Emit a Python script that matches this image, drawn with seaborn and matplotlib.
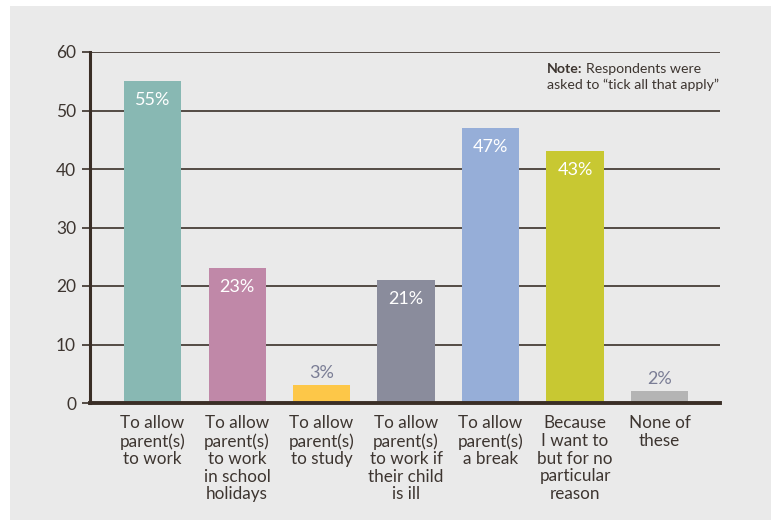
import matplotlib
matplotlib.use("Agg")
import matplotlib.pyplot as plt
import seaborn as sns
from matplotlib.patches import Rectangle

categories = [
    "To allow\nparent(s)\nto work",
    "To allow\nparent(s)\nto work\nin school\nholidays",
    "To allow\nparent(s)\nto study",
    "To allow\nparent(s)\nto work if\ntheir child\nis ill",
    "To allow\nparent(s)\na break",
    "Because\nI want to\nbut for no\nparticular\nreason",
    "None of\nthese",
]
values = [55, 23, 3, 21, 47, 43, 2]
bar_colors = ["#88b8b3", "#c088a8", "#fdc748", "#8a8c9c", "#96aed8", "#c8c832", "#b4b4b4"]
y_ticks = [0, 10, 20, 30, 40, 50, 60]

sns.set_theme(style="white")
plt.rcParams["font.family"] = ["Lato", "DejaVu Sans"]

text_dark = "#3d3530"
line_dark = "#2b2018"
panel = "#eaeaea"

fig = plt.figure(figsize=(7.71, 5.2), dpi=100)
fig.patch.set_facecolor("white")
fig.add_artist(Rectangle((10 / 771, 0), 1, 514 / 520, transform=fig.transFigure,
                         facecolor=panel, edgecolor="none", zorder=0))

ax = fig.add_axes([90 / 771, 117 / 520, 630 / 771, 351 / 520])
ax.set_facecolor(panel)
ax.patch.set_alpha(0)

sns.barplot(x=categories, y=values, hue=categories, palette=bar_colors,
            width=0.675, saturation=1, legend=False, ax=ax, zorder=3,
            edgecolor="none", linewidth=0)

ax.set_ylim(0, 60)
ax.set_xlim(-0.74, 6.716)
ax.set_yticks(y_ticks)
ax.set_yticklabels([str(t) for t in y_ticks], fontsize=12.5, color=text_dark)
for t in y_ticks[1:]:
    ax.axhline(t, color=line_dark, lw=1.1, zorder=1)

for side in ["top", "right"]:
    ax.spines[side].set_visible(False)
ax.spines["left"].set_color("#3a2e26")
ax.spines["left"].set_linewidth(2.2)
ax.spines["bottom"].set_color("#3a2e26")
ax.spines["bottom"].set_linewidth(2.8)
ax.spines["left"].set_zorder(4)
ax.spines["bottom"].set_zorder(4)

ax.tick_params(axis="y", which="both", left=True, length=6, width=1.1,
               color=line_dark, pad=4)
ax.tick_params(axis="x", which="both", bottom=False, pad=3)
ax.set_xticks(range(len(categories)))
ax.set_xticklabels(categories, fontsize=12.3, color=text_dark,
                   linespacing=1.12, va="top", ha="center")
ax.set_xlabel("")
ax.set_ylabel("")

for i, v in enumerate(values):
    label = f"{v}%"
    if v >= 10:
        ax.annotate(label, (i, v), xytext=(0, -19), textcoords="offset pixels",
                    ha="center", va="center", color="white", fontsize=13, zorder=5)
    else:
        ax.annotate(label, (i, v), xytext=(0, 12), textcoords="offset pixels",
                    ha="center", va="center", color="#7a7d95", fontsize=13, zorder=5)

# Note box in the upper right, bold lead word followed by regular text
note_x = 547 / 771
lead = fig.text(note_x, 1 - 69 / 520, "Note:", fontsize=10.2, fontweight="bold",
                color=text_dark, ha="left", va="center")
fig.canvas.draw()
bb = lead.get_window_extent(renderer=fig.canvas.get_renderer())
fig.text((bb.x1 + 3) / 771, 1 - 69 / 520, "Respondents were", fontsize=10.2,
         color=text_dark, ha="left", va="center")
fig.text(note_x, 1 - 85 / 520, "asked to \u201ctick all that apply\u201d", fontsize=10.2,
         color=text_dark, ha="left", va="center")

fig.savefig("out.png", dpi=100, facecolor=fig.get_facecolor())
